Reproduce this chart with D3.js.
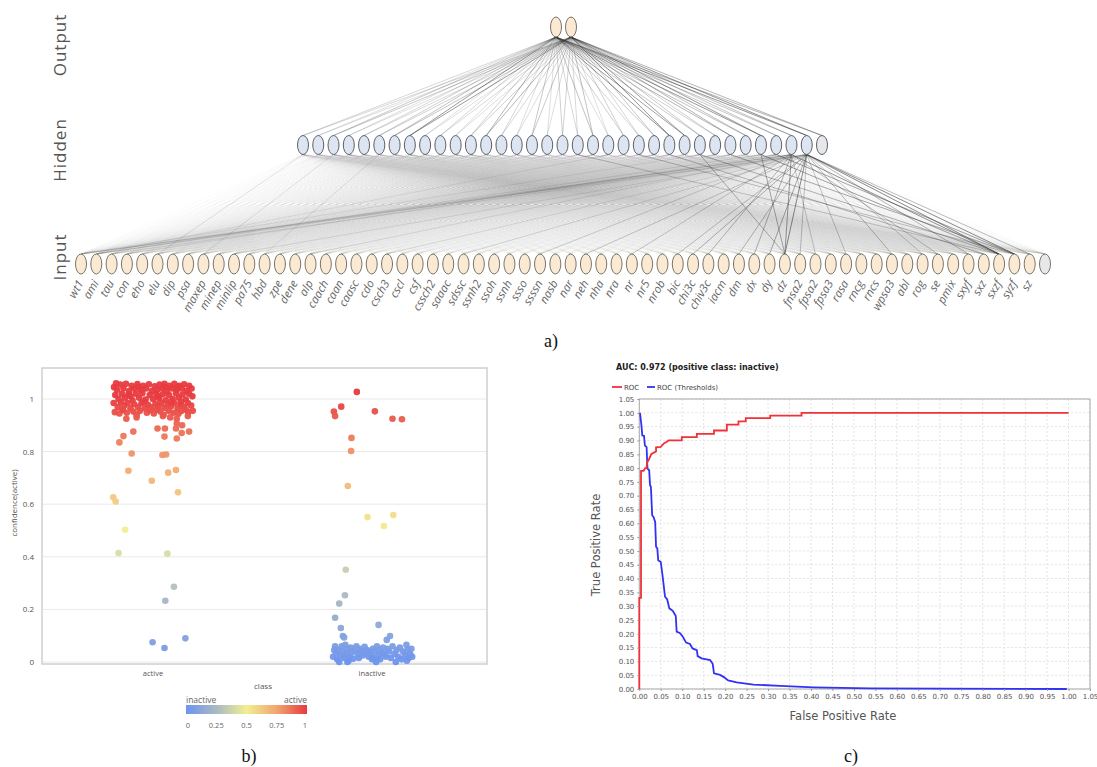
<!DOCTYPE html>
<html><head><meta charset="utf-8">
<script src="https://cdn.jsdelivr.net/npm/d3@7"></script>
<style>body{margin:0;background:#fff} svg{display:block}</style>
</head><body><svg id="c" width="1097" height="767"></svg>
<script>
// ---------- a) network ----------
const inputNames = ["wt1","ami","tau","con","eho","elu","dip","psa","maxep","minep","minlip","pa75","hbd","zpe","dene","alp","caach","caan","caasc","cdo","csch3","cscl","csf","cssch2","saaac","sdssc","ssnh2","ssoh","ssnh","ssso","ssssn","nasb","nar","neh","nha","nra","nr","nr5","nrob","bic","chi3c","chiv3c","iacm","dm","dx","dy","dz","fnsa2","fpsa2","fpsa3","rasa","rncg","rncs","wpsa3","abl","rog","se","pmix","sxyf","sxz","sxzf","syzf","sz"];
const hiddenCount = 34;
const outputCount = 2;
const layerNames = ["Output","Hidden","Input"];
// edge strength hidden(incl. bias) -> output
const hiddenOutWeights = [0.3,0.25,0.4,0.25,0.3,0.35,0.45,0.75,0.25,0.3,0.25,0.35,0.55,0.3,0.25,0.4,0.25,0.35,0.3,0.45,0.25,0.35,0.3,0.4,0.8,0.7,0.4,0.35,0.55,0.45,0.75,0.4,0.45,0.8,0.55];
// notable input -> hidden edges [input, hidden, strength]
const strongInputEdges = [[46,33,0.7],[46,32,0.6],[46,30,0.5],[46,26,0.45],[45,33,0.5],[44,32,0.45],[43,33,0.4],[40,33,0.45],[41,32,0.4],[39,33,0.35],[36,32,0.3],[33,33,0.3],[30,32,0.25],
[60,33,0.7],[60,32,0.65],[61,33,0.7],[61,31,0.55],[60,30,0.55],[61,28,0.5],[60,26,0.45],[59,24,0.4],[61,22,0.35],[58,33,0.4],[60,18,0.3],
[0,32,0.2],[0,33,0.18],[1,32,0.18],[1,30,0.15],[2,33,0.15],[3,31,0.12],[0,26,0.12],[1,20,0.12],
[47,33,0.35],[48,32,0.3],[50,33,0.35],[53,33,0.4],[56,32,0.35],[62,33,0.4],[55,33,0.3],
[20,33,0.15],[15,32,0.15],[10,33,0.15],[25,33,0.2],[8,2,0.15],[12,5,0.15],[5,0,0.15]];

// ---------- b) scatter ----------
const scatterClasses = ["active","inactive"];
// [jitter (-1..1), confidence(active)]
const activePts = [[-0.95,1.045],[-0.88,1.035],[-0.80,1.055],[-0.72,1.04],[-0.66,1.058],[-0.58,1.03],[-0.52,1.05],[-0.45,1.04],[-0.38,1.057],[-0.30,1.035],[-0.24,1.05],[-0.17,1.04],[-0.10,1.056],[-0.03,1.03],[0.04,1.048],[0.10,1.035],[0.16,1.055],[0.22,1.04],[0.28,1.058],[0.34,1.03],[0.40,1.05],[0.46,1.04],[0.52,1.058],[0.58,1.035],[0.64,1.05],[0.70,1.04],[0.76,1.056],[0.82,1.03],[0.88,1.05],[0.94,1.04],
[-0.92,1.015],[-0.84,1.0],[-0.76,1.02],[-0.68,1.005],[-0.60,1.018],[-0.50,0.995],[-0.42,1.02],[-0.34,1.005],[-0.26,1.022],[-0.18,0.998],[-0.08,1.015],[0.0,1.0],[0.08,1.02],[0.15,1.003],[0.24,1.018],[0.31,0.995],[0.39,1.015],[0.48,1.0],[0.56,1.022],[0.63,1.005],[0.72,1.017],[0.80,0.998],[0.88,1.02],[0.96,1.01],
[-0.96,0.985],[-0.86,0.97],[-0.78,0.988],[-0.70,0.975],[-0.62,0.985],[-0.55,0.965],[-0.46,0.98],[-0.36,0.97],[-0.28,0.985],[-0.20,0.965],[-0.12,0.978],[-0.04,0.968],[0.06,0.982],[0.13,0.97],[0.20,0.986],[0.28,0.967],[0.36,0.98],[0.44,0.972],[0.52,0.985],[0.60,0.965],[0.67,0.98],[0.75,0.97],[0.85,0.985],[0.93,0.975],
[-0.93,0.95],[-0.82,0.945],[-0.73,0.958],[-0.64,0.948],[-0.48,0.952],[-0.40,0.94],[-0.32,0.955],[-0.15,0.948],[-0.06,0.957],[0.02,0.945],[0.18,0.952],[0.26,0.94],[0.38,0.955],[0.50,0.948],[0.62,0.944],[0.70,0.955],[0.86,0.95],[0.97,0.955],
[-0.65,0.925],[-0.40,0.93],[0.24,0.935],[0.42,0.93],[0.58,0.925],[0.85,0.935],
[-0.9,1.06],[-0.35,1.045],[0.3,1.045],[0.6,1.045],[-0.55,1.01],[0.12,1.01],[0.68,0.99],[-0.22,0.99],[0.45,0.99],[-0.75,0.96],[0.1,0.96],[0.8,0.96],
[-0.48,0.876],[-0.72,0.859],[-0.82,0.835],[0.11,0.888],[0.29,0.888],[0.28,0.857],[0.58,0.850],[0.70,0.871],[0.88,0.876],[0.58,0.907],[0.71,0.90],[0.56,0.888],
[-0.52,0.793],[0.23,0.787],[0.32,0.789],[-0.60,0.727],[-0.03,0.689],[0.37,0.720],[0.56,0.730],[-0.97,0.626],[-0.91,0.610],[0.61,0.645],[-0.68,0.503],[-0.84,0.414],[0.35,0.412],[0.51,0.286],[0.30,0.233],[-0.01,0.075],[0.28,0.053],[0.79,0.090]];
const inactivePts = [[-0.37,1.027],[-0.93,0.952],[-0.90,0.935],[-0.75,0.971],[0.07,0.953],[0.50,0.925],[0.73,0.923],[-0.50,0.852],[-0.51,0.802],[-0.59,0.669],[-0.11,0.551],[0.52,0.559],[0.29,0.517],[-0.64,0.351],[-0.66,0.254],[-0.80,0.222],[-0.90,0.168],[-0.76,0.129],[0.16,0.141],[-0.71,0.099],[-0.68,0.093],[0.44,0.099],[0.36,0.084],
[-0.95,0.02],[-0.9,0.06],[-0.88,0.035],[-0.85,0.01],[-0.82,0.045],[-0.8,0.0],[-0.78,0.025],[-0.74,0.06],[-0.7,0.04],[-0.68,0.015],[-0.65,0.065],[-0.62,0.03],[-0.6,0.05],[-0.57,0.005],[-0.55,0.02],[-0.52,0.055],[-0.5,0.035],[-0.46,0.012],[-0.42,0.045],[-0.38,0.06],[-0.35,0.03],[-0.32,0.015],[-0.28,0.05],[-0.25,0.04],[-0.22,0.025],[-0.18,0.058],[-0.15,0.035],[-0.12,0.045],[-0.08,0.02],[-0.05,0.04],[-0.02,0.03],[0.02,0.05],[0.05,0.015],[0.08,0.04],[0.1,0.0],[0.12,0.06],[0.15,0.025],[0.18,0.045],[0.2,0.01],[0.24,0.035],[0.27,0.055],[0.3,0.03],[0.34,0.02],[0.38,0.05],[0.42,0.04],[0.46,0.015],[0.5,0.06],[0.55,0.03],[0.6,0.045],[0.64,0.02],[0.68,0.055],[0.72,0.01],[0.76,0.04],[0.8,0.025],[0.84,0.065],[0.87,0.045],[0.9,0.015],[0.93,0.03],[0.96,0.05],[0.98,0.02],[-0.92,0.045],[-0.6,0.0],[0.0,0.01],[0.58,0.0],[0.85,0.005]];
const confTicks = [0,0.2,0.4,0.6,0.8,1];
const legendTicks = [0,0.25,0.5,0.75,1];
const legendColors = ["#6d94ef","#aab9c2","#f1ef92","#f1a570","#e83a3f"];

// ---------- c) ROC ----------
const rocCurve = [[0,0],[0,0.33],[0.004,0.33],[0.004,0.79],[0.01,0.79],[0.014,0.80],[0.017,0.80],[0.018,0.82],[0.022,0.83],[0.025,0.84],[0.028,0.85],[0.033,0.855],[0.039,0.86],[0.039,0.875],[0.05,0.877],[0.052,0.88],[0.058,0.89],[0.064,0.895],[0.068,0.90],[0.099,0.90],[0.099,0.912],[0.134,0.912],[0.134,0.924],[0.174,0.924],[0.174,0.936],[0.204,0.936],[0.204,0.957],[0.231,0.957],[0.231,0.969],[0.248,0.969],[0.248,0.981],[0.305,0.981],[0.305,0.99],[0.378,0.99],[0.378,1.0],[1.0,1.0]];
const rocThreshold = [[0.0016,1.0],[0.005,0.954],[0.007,0.918],[0.011,0.916],[0.013,0.882],[0.017,0.876],[0.019,0.798],[0.023,0.792],[0.025,0.738],[0.027,0.732],[0.030,0.629],[0.033,0.623],[0.037,0.605],[0.039,0.515],[0.042,0.509],[0.044,0.466],[0.050,0.46],[0.054,0.412],[0.060,0.334],[0.065,0.324],[0.070,0.292],[0.078,0.283],[0.085,0.264],[0.087,0.208],[0.095,0.202],[0.101,0.19],[0.109,0.168],[0.118,0.163],[0.124,0.147],[0.134,0.141],[0.136,0.119],[0.145,0.111],[0.165,0.105],[0.171,0.091],[0.174,0.057],[0.188,0.051],[0.197,0.043],[0.207,0.031],[0.227,0.024],[0.266,0.016],[0.328,0.011],[0.406,0.006],[0.538,0.002],[0.996,0.0]];
const rocTicks = [0,0.05,0.1,0.15,0.2,0.25,0.3,0.35,0.4,0.45,0.5,0.55,0.6,0.65,0.7,0.75,0.8,0.85,0.9,0.95,1.0,1.05];
const rocSeries = ["ROC","ROC (Thresholds)"];
const rocColors = ["#f2303a","#3232f5"];

const svg = d3.select("#c");
svg.append("rect").attr("width",1097).attr("height",767).attr("fill","#fff");

// ===== a) network =====
const net = svg.append("g");
const xIn = d3.scalePoint().domain(d3.range(inputNames.length+1)).range([81,1045]);
const xHid = d3.scalePoint().domain(d3.range(hiddenCount+1)).range([303,822]);
const xOut = d3.scalePoint().domain(d3.range(outputCount)).range([556,571]);
const yLayer = d3.scalePoint().domain(layerNames).range([27,264]);
const yOut = yLayer("Output"), yHid = 145, yIn = yLayer("Input");
const rx=5.5, ry=10;

const eIH = net.append("g");
const faint = [];
d3.range(inputNames.length+1).forEach(i=>d3.range(hiddenCount).forEach(h=>faint.push([i,h])));
eIH.selectAll("line.f").data(faint).join("line")
  .attr("x1",d=>xIn(d[0])).attr("y1",yIn-ry).attr("x2",d=>xHid(d[1])).attr("y2",yHid+9.5)
  .attr("stroke","#8a8a8a").attr("stroke-opacity",0.05).attr("stroke-width",0.7);
eIH.selectAll("line.s").data(strongInputEdges).join("line")
  .attr("x1",d=>xIn(d[0])).attr("y1",yIn-ry).attr("x2",d=>xHid(d[1])).attr("y2",yHid+9.5)
  .attr("stroke","#333").attr("stroke-opacity",d=>d[2]).attr("stroke-width",0.8);
const ho = [];
d3.range(hiddenCount+1).forEach(h=>d3.range(outputCount).forEach(o=>ho.push([h,o])));
net.append("g").selectAll("line").data(ho).join("line")
  .attr("x1",d=>xHid(d[0])).attr("y1",yHid-9.5).attr("x2",d=>xOut(d[1])).attr("y2",yOut+ry)
  .attr("stroke","#2a2a2a").attr("stroke-opacity",d=>hiddenOutWeights[d[0]]*0.8).attr("stroke-width",0.8);

net.append("g").selectAll("ellipse").data(d3.range(inputNames.length+1)).join("ellipse")
  .attr("cx",d=>xIn(d)).attr("cy",yIn).attr("rx",rx).attr("ry",ry)
  .attr("fill",d=>d<inputNames.length?"#fbead3":"#e6e8ea").attr("stroke","#7d7468").attr("stroke-width",1);
net.append("g").selectAll("ellipse").data(d3.range(hiddenCount+1)).join("ellipse")
  .attr("cx",d=>xHid(d)).attr("cy",yHid).attr("rx",rx).attr("ry",9.5)
  .attr("fill",d=>d<hiddenCount?"#dde5f3":"#e6e8ea").attr("stroke","#5c6068").attr("stroke-width",1);
net.append("g").selectAll("ellipse").data(d3.range(outputCount)).join("ellipse")
  .attr("cx",d=>xOut(d)).attr("cy",yOut).attr("rx",rx).attr("ry",ry)
  .attr("fill","#fbead3").attr("stroke","#7d7468").attr("stroke-width",1);

net.append("g").selectAll("text").data(inputNames).join("text")
  .attr("transform",(d,i)=>`translate(${xIn(i)+3},${yIn+19}) rotate(-60)`)
  .attr("text-anchor","end").attr("font-family","Open Sans, DejaVu Sans, sans-serif")
  .attr("font-size",11.5).attr("fill","#666").attr("font-style","italic").text(d=>d);

const layerY = {"Output":45,"Hidden":150,"Input":257};
net.append("g").selectAll("text").data(layerNames).join("text")
  .attr("transform",d=>`translate(66,${layerY[d]}) rotate(-90)`)
  .attr("text-anchor","middle").attr("font-family","Open Sans, DejaVu Sans, sans-serif")
  .attr("font-size",17).attr("letter-spacing",1).attr("fill","#555").text(d=>d);

// captions
const cap = [["a)",551,347],["b)",249,762],["c)",851,762]];
svg.append("g").selectAll("text").data(cap).join("text")
  .attr("x",d=>d[1]).attr("y",d=>d[2]).attr("text-anchor","middle")
  .attr("font-family","Liberation Serif, Times New Roman, serif").attr("font-size",18).attr("fill","#111").text(d=>d[0]);

// ===== b) scatter =====
const sc = svg.append("g");
const pL=42, pR=487, pT=368, pB=664;
const ySc = d3.scaleLinear().domain([0,1]).range([662,399]);
const xCls = d3.scalePoint().domain(scatterClasses).range([153,372]);
const jit = d3.scaleLinear().domain([-1,1]).range([-41,41]);
const color = d3.scaleLinear().domain(legendTicks).range(legendColors).clamp(true);
sc.append("g").selectAll("line").data(confTicks).join("line")
  .attr("x1",pL).attr("x2",pR).attr("y1",d=>ySc(d)).attr("y2",d=>ySc(d))
  .attr("stroke","#e9e9e9").attr("stroke-width",1);
sc.append("rect").attr("x",pL).attr("y",pT).attr("width",pR-pL).attr("height",pB-pT)
  .attr("fill","none").attr("stroke","#cfcfcf").attr("stroke-width",1.5);
const ax = sc.append("g").attr("transform",`translate(${pL},0)`)
  .call(d3.axisLeft(ySc).tickValues(confTicks).tickSize(0).tickPadding(8).tickFormat(d3.format("~g")));
ax.select(".domain").remove();
ax.selectAll("text").attr("font-family","Open Sans, DejaVu Sans, sans-serif").attr("font-size",8).attr("fill","#555");
const pts = activePts.map(d=>({c:"active",j:d[0],v:d[1]})).concat(inactivePts.map(d=>({c:"inactive",j:d[0],v:d[1]})));
sc.append("g").selectAll("circle").data(pts).join("circle")
  .attr("cx",d=>xCls(d.c)+jit(d.j)).attr("cy",d=>ySc(d.v)).attr("r",3.3)
  .attr("fill",d=>color(d.v)).attr("fill-opacity",0.95);
sc.append("g").selectAll("text").data(scatterClasses).join("text")
  .attr("x",d=>xCls(d)).attr("y",676).attr("text-anchor","middle")
  .attr("font-family","Open Sans, DejaVu Sans, sans-serif").attr("font-size",7.5).attr("fill","#555").text(d=>d);
sc.append("text").attr("x",263).attr("y",689).attr("text-anchor","middle")
  .attr("font-family","Open Sans, DejaVu Sans, sans-serif").attr("font-size",8).attr("fill","#555").text("class");
sc.append("text").attr("transform","translate(17,503) rotate(-90)").attr("text-anchor","middle")
  .attr("font-family","Open Sans, DejaVu Sans, sans-serif").attr("font-size",8).attr("fill","#555").text("confidence(active)");
// legend
const lg = svg.append("defs").append("linearGradient").attr("id","lgrad");
lg.selectAll("stop").data(legendTicks).join("stop").attr("offset",d=>d*100+"%").attr("stop-color",d=>color(d));
const xLeg = d3.scaleLinear().domain([0,1]).range([186,307]);
sc.append("rect").attr("x",xLeg(0)).attr("y",705).attr("width",xLeg(1)-xLeg(0)).attr("height",9).attr("fill","url(#lgrad)");
sc.append("text").attr("x",xLeg(0)).attr("y",703).attr("font-family","Open Sans, DejaVu Sans, sans-serif").attr("font-size",8.5).attr("fill","#666").text("inactive");
sc.append("text").attr("x",xLeg(1)).attr("y",703).attr("text-anchor","end").attr("font-family","Open Sans, DejaVu Sans, sans-serif").attr("font-size",8.5).attr("fill","#666").text("active");
sc.append("g").selectAll("text").data(legendTicks).join("text")
  .attr("x",d=>xLeg(d)+(d===0?2:d===1?-2:0)).attr("y",728).attr("text-anchor","middle")
  .attr("font-family","Open Sans, DejaVu Sans, sans-serif").attr("font-size",7.5).attr("fill","#666").text(d=>d3.format("~g")(d));

// ===== c) ROC =====
const rc = svg.append("g");
const xR = d3.scaleLinear().domain([0,1.05]).range([639.3,1090]);
const yR = d3.scaleLinear().domain([0,1.05]).range([689,399]);
rc.append("g").selectAll("line").data(rocTicks).join("line")
  .attr("x1",d=>xR(d)).attr("x2",d=>xR(d)).attr("y1",yR(0)).attr("y2",yR(1.05))
  .attr("stroke","#dcdcdc").attr("stroke-dasharray","2,2").attr("stroke-width",0.8);
rc.append("g").selectAll("line").data(rocTicks).join("line")
  .attr("y1",d=>yR(d)).attr("y2",d=>yR(d)).attr("x1",xR(0)).attr("x2",xR(1.05))
  .attr("stroke","#dcdcdc").attr("stroke-dasharray","2,2").attr("stroke-width",0.8);
rc.append("rect").attr("x",xR(0)).attr("y",yR(1.05)).attr("width",xR(1.05)-xR(0)).attr("height",yR(0)-yR(1.05))
  .attr("fill","none").attr("stroke","#a8a8a8").attr("stroke-width",1);
const line = d3.line().x(d=>xR(d[0])).y(d=>yR(d[1]));
rc.append("path").datum(rocThreshold).attr("d",line).attr("fill","none").attr("stroke",rocColors[1]).attr("stroke-width",1.8);
rc.append("path").datum(rocCurve).attr("d",line).attr("fill","none").attr("stroke",rocColors[0]).attr("stroke-width",1.8);
const axX = rc.append("g").attr("transform",`translate(0,${yR(0)})`)
  .call(d3.axisBottom(xR).tickValues(rocTicks).tickSize(2).tickPadding(3).tickFormat(d3.format(".2f")));
const axY = rc.append("g").attr("transform",`translate(${xR(0)},0)`)
  .call(d3.axisLeft(yR).tickValues(rocTicks).tickSize(2).tickPadding(3).tickFormat(d3.format(".2f")));
[axX,axY].forEach(a=>{a.select(".domain").remove();
  a.selectAll("line").attr("stroke","#999");
  a.selectAll("text").attr("font-family","DejaVu Sans, sans-serif").attr("font-size",7).attr("fill","#555");});
rc.append("text").attr("x",843).attr("y",720).attr("text-anchor","middle")
  .attr("font-family","DejaVu Sans, sans-serif").attr("font-size",11.5).attr("fill","#555").text("False Positive Rate");
rc.append("text").attr("transform","translate(600,545) rotate(-90)").attr("text-anchor","middle")
  .attr("font-family","DejaVu Sans, sans-serif").attr("font-size",11.5).attr("fill","#555").text("True Positive Rate");
rc.append("text").attr("x",616).attr("y",370)
  .attr("font-family","DejaVu Sans, sans-serif").attr("font-size",8).attr("font-weight","bold").attr("fill","#222").text("AUC: 0.972 (positive class: inactive)");
const legX = [612,647];
const lgR = rc.append("g").selectAll("g").data(rocSeries).join("g").attr("transform",(d,i)=>`translate(${legX[i]},387)`);
lgR.append("line").attr("x1",0).attr("x2",(d,i)=>i?8:10).attr("stroke",(d,i)=>rocColors[i]).attr("stroke-width",1.8);
lgR.append("text").attr("x",(d,i)=>i?10:12).attr("y",2.5).attr("font-family","DejaVu Sans, sans-serif").attr("font-size",7).attr("fill","#444").text(d=>d);
</script></body></html>
